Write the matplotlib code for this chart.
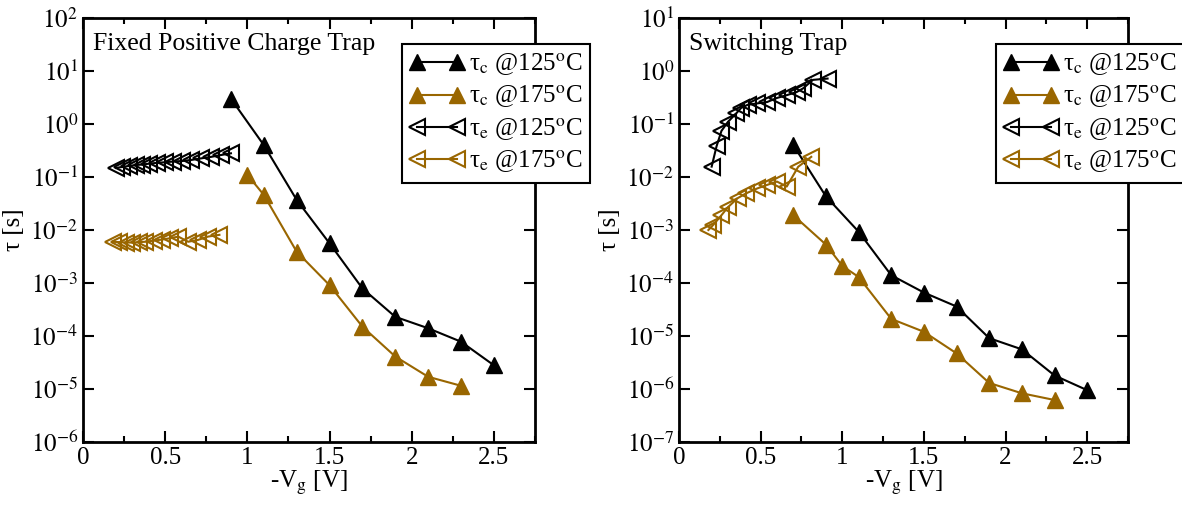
import numpy as np
import matplotlib
matplotlib.use("Agg")
import matplotlib.pyplot as plt
from matplotlib.ticker import FixedLocator, NullLocator

plt.rcParams["font.family"] = ["Liberation Serif", "DejaVu Serif"]
plt.rcParams["mathtext.fontset"] = "stix"

BROWN = "#996600"

# ── Datos: Fixed Positive Charge Trap ────────────────────────────────────────
fp_vc_125 = [0.9, 1.1, 1.3, 1.5, 1.7, 1.9, 2.1, 2.3, 2.5]
fp_tc_125 = [3.0, 0.40, 0.037, 5.6e-3, 7.9e-4, 2.3e-4, 1.4e-4, 7.8e-5, 2.8e-5]
fp_vc_175 = [1.0, 1.1, 1.3, 1.5, 1.7, 1.9, 2.1, 2.3]
fp_tc_175 = [0.11, 0.046, 3.9e-3, 9.1e-4, 1.5e-4, 4.1e-5, 1.7e-5, 1.15e-5]
fp_ve_125 = [0.2, 0.24, 0.28, 0.32, 0.36, 0.4, 0.45, 0.5, 0.55, 0.6, 0.66, 0.72, 0.78, 0.84, 0.9]
fp_te_125 = [0.148, 0.155, 0.162, 0.168, 0.172, 0.178, 0.185, 0.19, 0.196, 0.2, 0.21, 0.225, 0.24, 0.26, 0.28]
fp_ve_175 = [0.18, 0.22, 0.26, 0.3, 0.34, 0.38, 0.43, 0.48, 0.53, 0.58, 0.64, 0.7, 0.76, 0.83]
fp_te_175 = [6.0e-3, 5.9e-3, 5.8e-3, 5.8e-3, 5.9e-3, 6.0e-3, 6.3e-3, 6.6e-3, 7.0e-3, 7.5e-3, 6.0e-3, 6.5e-3, 7.5e-3, 8.1e-3]

# ── Datos: Switching Trap ────────────────────────────────────────────────────
sw_vc_125 = [0.7, 0.9, 1.1, 1.3, 1.5, 1.7, 1.9, 2.1, 2.3, 2.5]
sw_tc_125 = [0.040, 4.3e-3, 9.3e-4, 1.4e-4, 6.6e-5, 3.6e-5, 9.1e-6, 5.6e-6, 1.8e-6, 9.5e-7]
sw_vc_175 = [0.7, 0.9, 1.0, 1.1, 1.3, 1.5, 1.7, 1.9, 2.1, 2.3]
sw_tc_175 = [1.9e-3, 5.3e-4, 2.1e-4, 1.3e-4, 2.1e-5, 1.2e-5, 4.7e-6, 1.3e-6, 8.3e-7, 6.2e-7]
sw_ve_125 = [0.2, 0.23, 0.26, 0.3, 0.35, 0.38, 0.42, 0.48, 0.54, 0.6, 0.66, 0.72, 0.76, 0.82, 0.91]
sw_te_125 = [0.0157, 0.038, 0.074, 0.11, 0.158, 0.2, 0.23, 0.245, 0.26, 0.31, 0.35, 0.40, 0.47, 0.68, 0.72]
sw_ve_175 = [0.18, 0.21, 0.26, 0.3, 0.36, 0.41, 0.48, 0.54, 0.6, 0.66, 0.73, 0.81]
sw_te_175 = [1.0e-3, 1.25e-3, 1.9e-3, 2.7e-3, 4.0e-3, 4.9e-3, 6.1e-3, 7.1e-3, 8.2e-3, 6.6e-3, 0.0156, 0.024]

x_ticks = [0, 0.5, 1, 1.5, 2, 2.5]
x_tick_labels = ["0", "0.5", "1", "1.5", "2", "2.5"]
x_minor = [0.25, 0.75, 1.25, 1.75, 2.25, 2.75]

labels = ["τ$_{\\rm c}$ @125$^{\\rm o}$C", "τ$_{\\rm c}$ @175$^{\\rm o}$C",
          "τ$_{\\rm e}$ @125$^{\\rm o}$C", "τ$_{\\rm e}$ @175$^{\\rm o}$C"]


def draw_panel(ax, series, ylo, yhi, title):
    (vc1, tc1), (vc2, tc2), (ve1, te1), (ve2, te2) = series
    ax.plot(vc1, tc1, "-^", color="black", lw=1.5, ms=12, mfc="black", mec="black", label=labels[0])
    ax.plot(vc2, tc2, "-^", color=BROWN, lw=1.5, ms=12, mfc=BROWN, mec=BROWN, label=labels[1])
    ax.plot(ve1, te1, "-<", color="black", lw=1.5, ms=11, mfc="none", mec="black", mew=1.5, label=labels[2])
    ax.plot(ve2, te2, "-<", color=BROWN, lw=1.5, ms=11, mfc="none", mec=BROWN, mew=1.5, label=labels[3])

    ax.set_yscale("log")
    ax.set_xlim(0, 2.75)
    ax.set_ylim(10.0 ** ylo, 10.0 ** yhi)
    ax.xaxis.set_major_locator(FixedLocator(x_ticks))
    ax.xaxis.set_minor_locator(FixedLocator(x_minor))
    ax.set_xticklabels(x_tick_labels)
    exps = list(range(ylo, yhi + 1))
    ax.yaxis.set_major_locator(FixedLocator([10.0 ** e for e in exps]))
    ax.yaxis.set_minor_locator(NullLocator())
    ax.set_yticklabels([r"$10^{%d}$" % e for e in exps])
    ax.tick_params(which="both", direction="in", top=True, right=True, labelsize=18, width=1.5)
    ax.tick_params(which="major", length=8)
    ax.tick_params(which="minor", length=4)
    for s in ax.spines.values():
        s.set_linewidth(2)

    ax.set_xlabel(r"-V$_{\rm g}$ [V]", fontsize=18, labelpad=0)
    ax.set_ylabel("τ [s]", fontsize=18, labelpad=4)
    ax.text(0.022, 0.965, title, transform=ax.transAxes, fontsize=18.5, va="top", ha="left")

    leg = ax.legend(loc="upper left", bbox_to_anchor=(0.705, 0.938), borderaxespad=0,
                    fontsize=18, numpoints=2, handlelength=2.2, handletextpad=0.2,
                    labelspacing=0.25, borderpad=0.3, fancybox=False, framealpha=1,
                    edgecolor="black")
    leg.get_frame().set_linewidth(1.5)


fig = plt.figure(figsize=(11.82, 5.09), dpi=100)
ax1 = fig.add_axes([83 / 1182, 1 - 442 / 509, 452 / 1182, 424 / 509])
ax2 = fig.add_axes([679 / 1182, 1 - 442 / 509, 449 / 1182, 424 / 509])

draw_panel(ax1, [(fp_vc_125, fp_tc_125), (fp_vc_175, fp_tc_175),
                 (fp_ve_125, fp_te_125), (fp_ve_175, fp_te_175)],
           -6, 2, "Fixed Positive Charge Trap")
draw_panel(ax2, [(sw_vc_125, sw_tc_125), (sw_vc_175, sw_tc_175),
                 (sw_ve_125, sw_te_125), (sw_ve_175, sw_te_175)],
           -7, 1, "Switching Trap")

plt.savefig("out.png", dpi=100)
plt.close()
